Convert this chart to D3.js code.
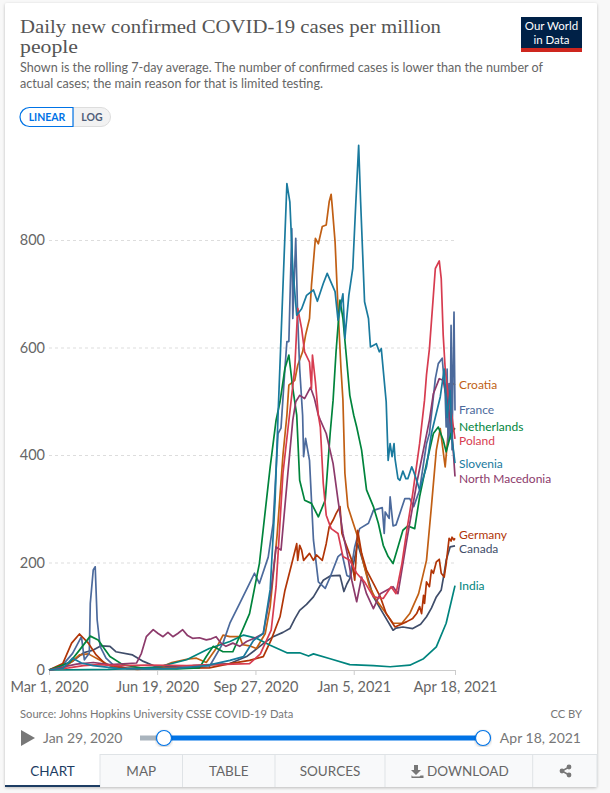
<!DOCTYPE html>
<html>
<head>
<meta charset="utf-8">
<script src="https://cdn.jsdelivr.net/npm/d3@7"></script>
<style>
  html, body { margin: 0; padding: 0; background: #f8f8f8; }
  svg { display: block; font-family: Lato, sans-serif; }
  .y.axis path, .x.axis .domain { display: none; }
  .y.axis line { stroke: #ddd; stroke-dasharray: 3 3; }
  .y.axis text, .x.axis text { fill: #666; font-size: 14.5px; font-family: Lato, sans-serif; }
  .x.axis line { stroke: #ccc; }
  .tab { fill: #666; font-size: 13.5px; text-anchor: middle; }
</style>
</head>
<body>
<script>
// [days since Mar 1 2020, cases per million]
const canada = [[0,0],[24,16],[35,32],[45,37],[53,45],[62,44],[68,34],[85,28],[96,16],[109,6],[146,8],[184,12],[201,25],[218,49],[228,62],[238,70],[245,77],[250,95],[255,111],[262,122],[269,136],[279,167],[286,175],[296,176],[300,146],[303,160],[306,170],[310,200],[314,235],[320,198],[330,136],[340,105],[350,74],[353,78],[360,80],[370,77],[378,85],[384,99],[389,115],[394,136],[399,149],[402,180],[404,204],[408,229],[413,231]];
const croatia = [[0,0],[16,5],[26,20],[31,28],[40,30],[52,18],[65,5],[90,1],[112,4],[125,14],[140,20],[150,22],[160,14],[170,40],[177,65],[184,62],[194,62],[197,47],[204,45],[211,40],[220,68],[225,118],[232,250],[238,400],[242,474],[244,530],[250,539],[253,567],[258,592],[261,623],[265,654],[267,716],[271,803],[274,793],[278,825],[282,828],[285,871],[287,885],[288,865],[291,797],[294,673],[297,561],[299,502],[301,366],[304,304],[309,276],[314,248],[320,198],[326,155],[333,130],[343,105],[350,87],[359,87],[367,105],[376,142],[384,204],[389,304],[394,409],[398,449],[403,378],[406,440],[408,527],[409,536],[413,530]];
const france = [[0,0],[11,3],[24,31],[33,62],[36,19],[41,31],[42,124],[45,186],[47,192],[49,93],[52,44],[58,22],[65,10],[79,3],[110,2],[146,4],[163,6],[177,50],[184,87],[194,124],[204,161],[209,180],[214,161],[223,210],[228,273],[233,440],[236,450],[240,561],[242,611],[244,611],[247,821],[248,654],[251,803],[253,654],[255,561],[258,474],[259,397],[261,431],[265,390],[269,242],[274,164],[281,152],[286,173],[294,211],[298,217],[303,176],[306,173],[311,229],[316,263],[325,273],[330,297],[339,302],[341,254],[342,294],[346,282],[347,322],[350,268],[353,270],[362,319],[367,319],[371,304],[377,335],[384,421],[387,440],[393,542],[396,570],[400,580],[403,514],[404,452],[405,560],[406,420],[407,533],[408,430],[409,641],[410,410],[411,560],[412,666],[413,483]];
const germany = [[0,0],[14,12],[23,50],[31,67],[40,50],[48,28],[58,10],[79,3],[163,4],[184,12],[204,18],[218,25],[226,56],[235,99],[240,148],[247,198],[252,235],[253,204],[255,232],[257,223],[259,204],[265,217],[269,204],[272,214],[278,204],[282,235],[285,266],[289,279],[292,291],[296,304],[298,254],[303,229],[308,204],[311,167],[314,260],[318,217],[323,186],[330,161],[337,136],[343,105],[352,80],[364,90],[370,96],[374,105],[377,118],[379,105],[381,139],[382,124],[384,164],[387,155],[389,186],[391,180],[394,201],[397,206],[399,180],[402,173],[404,198],[407,245],[409,240],[410,247],[412,242],[413,245]];
const india = [[0,0],[60,1],[90,3],[112,6],[140,19],[163,40],[184,53],[198,65],[211,59],[225,46],[242,32],[255,32],[264,26],[269,30],[286,21],[306,10],[330,8],[347,6],[367,9],[381,21],[394,43],[404,87],[413,157]];
const netherlands = [[0,0],[21,14],[31,37],[42,63],[50,56],[62,25],[75,10],[96,3],[130,2],[153,4],[160,25],[167,44],[177,34],[187,34],[197,75],[204,105],[214,198],[225,378],[231,465],[235,499],[240,561],[244,586],[248,524],[252,474],[255,353],[260,316],[267,310],[274,285],[281,316],[286,440],[289,502],[292,592],[296,688],[299,654],[303,573],[306,511],[310,474],[313,452],[318,409],[323,335],[330,304],[335,273],[340,232],[345,211],[350,198],[355,229],[360,260],[365,268],[372,263],[377,322],[384,384],[391,440],[396,452],[401,428],[404,406],[409,440],[413,450]];
const northMacedonia = [[0,0],[28,11],[45,14],[62,10],[89,13],[94,31],[99,62],[106,75],[111,68],[116,62],[121,70],[126,62],[131,68],[136,75],[141,64],[146,59],[153,60],[160,56],[165,58],[170,62],[175,50],[180,44],[187,50],[194,44],[201,53],[210,60],[218,68],[226,149],[231,229],[236,223],[243,366],[248,465],[251,499],[255,511],[260,505],[266,526],[270,505],[274,474],[276,465],[282,440],[289,384],[294,316],[299,254],[304,211],[308,167],[313,127],[318,173],[323,142],[330,114],[337,142],[350,155],[355,142],[364,242],[374,347],[387,465],[391,514],[397,542],[401,539],[405,502],[410,440],[413,360]];
const poland = [[0,0],[20,4],[35,8],[50,10],[70,8],[100,9],[140,8],[170,10],[204,12],[215,30],[226,74],[231,155],[238,366],[245,480],[250,561],[253,673],[257,635],[260,592],[265,573],[267,524],[268,586],[271,536],[274,474],[276,452],[279,347],[282,288],[287,263],[294,254],[299,211],[306,204],[313,180],[321,164],[330,136],[340,133],[348,155],[353,142],[359,198],[364,260],[370,328],[377,421],[382,502],[384,549],[387,598],[391,697],[393,747],[397,761],[399,728],[401,623],[403,561],[406,511],[410,470],[413,430]];
const slovenia = [[0,0],[14,3],[24,22],[33,13],[45,8],[70,3],[100,2],[130,3],[160,8],[184,18],[198,25],[208,55],[218,68],[225,150],[230,316],[233,474],[240,809],[242,905],[245,871],[248,747],[252,660],[257,672],[262,697],[269,707],[273,686],[279,719],[283,738],[291,704],[294,651],[299,700],[301,617],[305,697],[309,747],[312,865],[315,976],[317,871],[321,685],[325,654],[327,601],[333,607],[336,592],[338,598],[343,499],[345,390],[347,421],[349,397],[351,421],[352,393],[355,356],[357,353],[360,370],[363,356],[365,356],[369,378],[371,369],[374,353],[377,335],[384,378],[389,440],[398,508],[402,560],[405,470],[408,520],[410,430],[413,385]];

const seriesNames = ["Canada", "Croatia", "France", "Germany", "India", "Netherlands", "North Macedonia", "Poland", "Slovenia"];
const seriesValues = [canada, croatia, france, germany, india, netherlands, northMacedonia, poland, slovenia];
const seriesColors = ["#3f4d6a", "#c15f14", "#4c6a9c", "#b13507", "#00847e", "#00843c", "#8c3a6b", "#d73c50", "#1a7a9e"];
const labelNudge = [3, 0, 0, -3, 0, -1, 2, 2, 1];

const yTicks = [0, 200, 400, 600, 800];
const xTickDays = [0, 110, 210, 310, 413];
const startDate = new Date(2020, 2, 1);
const toDate = function(d) { return d3.timeDay.offset(startDate, d); };

const tabNames = ["MAP", "TABLE", "SOURCES", "DOWNLOAD"];
const tabEdges = [100, 182.5, 275, 385, 532.7, 597];

const svg = d3.select("body").append("svg")
    .attr("width", 610)
    .attr("height", 793);

const defs = svg.append("defs");
const shadow = defs.append("filter").attr("id", "cardShadow")
    .attr("x", "-5%").attr("y", "-5%").attr("width", "110%").attr("height", "110%");
shadow.append("feDropShadow").attr("dx", 0).attr("dy", 1).attr("stdDeviation", 1.5)
    .attr("flood-color", "#000").attr("flood-opacity", 0.25);

svg.append("rect").attr("x", 5).attr("y", 3).attr("width", 592).attr("height", 784).attr("rx", 2)
    .attr("fill", "#fff").attr("filter", "url(#cardShadow)");

// header
const titleFont = "'Liberation Serif', serif";
svg.append("text").attr("x", 20).attr("y", 33).attr("fill", "#555").attr("font-family", titleFont)
    .attr("font-size", 19).attr("textLength", 421).attr("lengthAdjust", "spacingAndGlyphs")
    .text("Daily new confirmed COVID-19 cases per million");
svg.append("text").attr("x", 20).attr("y", 53).attr("fill", "#555").attr("font-family", titleFont)
    .attr("font-size", 19).attr("textLength", 58).attr("lengthAdjust", "spacingAndGlyphs")
    .text("people");
svg.append("text").attr("x", 20).attr("y", 72).attr("fill", "#666").attr("font-size", 13)
    .attr("textLength", 523).attr("lengthAdjust", "spacingAndGlyphs")
    .text("Shown is the rolling 7-day average. The number of confirmed cases is lower than the number of");
svg.append("text").attr("x", 20).attr("y", 88).attr("fill", "#666").attr("font-size", 13)
    .attr("textLength", 303).attr("lengthAdjust", "spacingAndGlyphs")
    .text("actual cases; the main reason for that is limited testing.");

// logo
svg.append("rect").attr("x", 521).attr("y", 17).attr("width", 61).attr("height", 35).attr("fill", "#002147");
svg.append("rect").attr("x", 521).attr("y", 48).attr("width", 61).attr("height", 4).attr("fill", "#ce261e");
svg.append("text").attr("x", 551.5).attr("y", 30).attr("text-anchor", "middle").attr("fill", "#fff").attr("font-size", 11.5).text("Our World");
svg.append("text").attr("x", 551.5).attr("y", 44).attr("text-anchor", "middle").attr("fill", "#fff").attr("font-size", 11.5).text("in Data");

// linear / log toggle
svg.append("path").attr("d", "M73 107.5H101a9.5 9.5 0 0 1 0 19H73Z").attr("fill", "#f2f2f2").attr("stroke", "#ddd");
svg.append("path").attr("d", "M73 107.5H29.5a9.5 9.5 0 0 0 0 19H73Z").attr("fill", "#fff").attr("stroke", "#0073e6").attr("stroke-width", 1.2);
svg.append("text").attr("x", 47).attr("y", 121).attr("text-anchor", "middle").attr("fill", "#0073e6").attr("font-size", 10.5).attr("font-weight", 700).text("LINEAR");
svg.append("text").attr("x", 92).attr("y", 121).attr("text-anchor", "middle").attr("fill", "#4e5d78").attr("font-size", 10.5).attr("font-weight", 700).text("LOG");

// chart
const x = d3.scaleTime().domain([startDate, toDate(413)]).range([49, 455]);
const y = d3.scaleLinear().domain([0, 800]).range([670, 240]);

const yAxis = d3.axisLeft(y).tickValues(yTicks).tickSize(-406).tickPadding(4);
svg.append("g")
    .attr("class", "y axis")
    .attr("transform", "translate(49,0)")
    .call(yAxis)
    .call(function(g) { g.selectAll(".tick").filter(function(d) { return d === 0; }).select("line").remove(); });

const xAxis = d3.axisBottom(x)
    .tickValues(xTickDays.map(toDate))
    .tickFormat(d3.timeFormat("%b %-d, %Y"))
    .tickSize(5)
    .tickPadding(7);
svg.append("g")
    .attr("class", "x axis")
    .attr("transform", "translate(0,670)")
    .call(xAxis);
svg.append("line").attr("x1", 49).attr("x2", 455).attr("y1", 670.5).attr("y2", 670.5).attr("stroke", "#ccc");

const line = d3.line()
    .x(function(d) { return x(toDate(d[0])); })
    .y(function(d) { return y(d[1]); });

svg.selectAll(".series")
    .data(seriesValues)
    .enter().append("path")
    .attr("class", "series")
    .attr("fill", "none")
    .attr("stroke-width", 1.7)
    .attr("stroke-linejoin", "round")
    .attr("stroke", function(d, i) { return seriesColors[i]; })
    .attr("d", line);

svg.selectAll(".series-label")
    .data(seriesValues)
    .enter().append("text")
    .attr("class", "series-label")
    .attr("x", 459)
    .attr("y", function(d, i) { return y(d[d.length - 1][1]) + labelNudge[i] + 4; })
    .attr("fill", function(d, i) { return seriesColors[i]; })
    .attr("font-size", 12)
    .text(function(d, i) { return seriesNames[i]; });

// footer
svg.append("text").attr("x", 20).attr("y", 718).attr("fill", "#777").attr("font-size", 11.2).text("Source: Johns Hopkins University CSSE COVID-19 Data");
svg.append("text").attr("x", 582).attr("y", 718).attr("text-anchor", "end").attr("fill", "#777").attr("font-size", 11.2).text("CC BY");

// timeline
svg.append("path").attr("d", "M21 730V746L35 738Z").attr("fill", "#777");
svg.append("text").attr("x", 43).attr("y", 743).attr("fill", "#777").attr("font-size", 14).text("Jan 29, 2020");
svg.append("text").attr("x", 581).attr("y", 743).attr("text-anchor", "end").attr("fill", "#777").attr("font-size", 14).text("Apr 18, 2021");
svg.append("rect").attr("x", 140).attr("y", 735.5).attr("width", 24).attr("height", 5).attr("fill", "#a9b4bd");
svg.append("rect").attr("x", 164).attr("y", 735.5).attr("width", 319).attr("height", 5).attr("fill", "#0073e6");
svg.selectAll(".handle")
    .data([164, 483])
    .enter().append("circle")
    .attr("class", "handle")
    .attr("cx", function(d) { return d; })
    .attr("cy", 738)
    .attr("r", 7.5)
    .attr("fill", "#fff")
    .attr("stroke", "#0073e6")
    .attr("stroke-width", 1.2)
    .attr("filter", "url(#cardShadow)");

// tabs
svg.append("rect").attr("x", 100).attr("y", 754).attr("width", 497).attr("height", 33).attr("fill", "#f8f9fa");
svg.append("line").attr("x1", 100).attr("x2", 597).attr("y1", 754.5).attr("y2", 754.5).attr("stroke", "#dfe3e6");
tabEdges.forEach(function(e) {
    svg.append("line").attr("x1", e).attr("x2", e).attr("y1", 754).attr("y2", 787).attr("stroke", "#dfe3e6");
});
svg.append("rect").attr("x", 5).attr("y", 785).attr("width", 95).attr("height", 2).attr("fill", "#1d3d63");
svg.append("text").attr("class", "tab").attr("x", 52.5).attr("y", 776).style("fill", "#1d3d63").text("CHART");
svg.selectAll(".tab-label")
    .data(tabNames)
    .enter().append("text")
    .attr("class", "tab tab-label")
    .attr("x", function(d, i) { return (tabEdges[i] + tabEdges[i + 1]) / 2 + (d === "DOWNLOAD" ? 9 : 0); })
    .attr("y", 776)
    .text(function(d) { return d; });

// download + share icons
svg.append("path").attr("d", "M414 765h4v5h3l-5 5-5-5h3zM412 775.5h-0.5v2.5h12v-2.5h-3l-1 1h-7z").attr("fill", "#777");
svg.append("g").attr("transform", "translate(565,771)").call(function(g) {
    g.append("path").attr("d", "M4-4L-3 0L4 4").attr("fill", "none").attr("stroke", "#777").attr("stroke-width", 1.5);
    g.selectAll("circle").data([[4, -4], [-3, 0], [4, 4]]).enter().append("circle")
        .attr("cx", function(d) { return d[0]; }).attr("cy", function(d) { return d[1]; })
        .attr("r", 2.4).attr("fill", "#777");
});
</script>
</body>
</html>
